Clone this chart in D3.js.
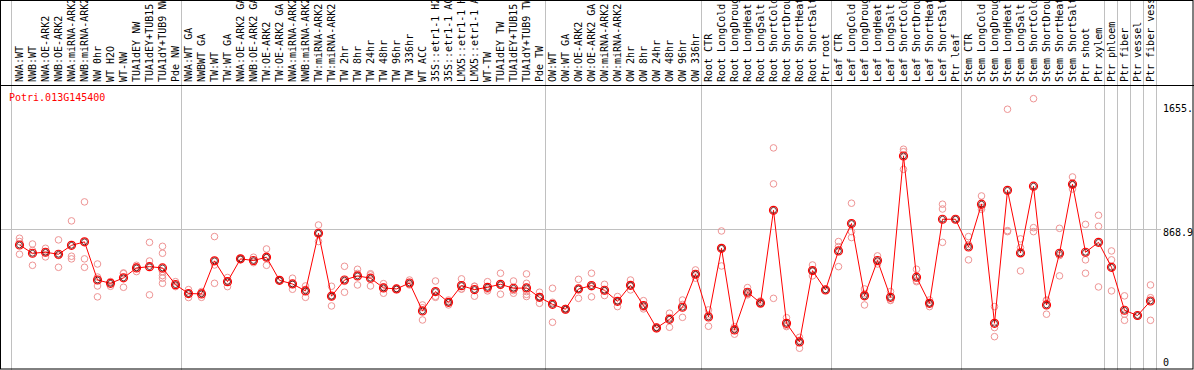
<!DOCTYPE html>
<html><head><meta charset="utf-8">
<script src="https://cdn.jsdelivr.net/npm/d3@7"></script>
<style>
html,body{margin:0;padding:0;background:#fff;}
text{font-family:"DejaVu Sans Mono",monospace;font-size:10px;}
</style></head>
<body><svg id="chart" width="1194" height="370"></svg>
<script>
const geneName = "Potri.013G145400";
const categories = [
"NWA:WT","NWB:WT","NWA:OE-ARK2","NWB:OE-ARK2","NWA:miRNA-ARK2","NWB:miRNA-ARK2","NW 0hr","WT H2O","WT-NW","TUA1dEY NW","TUA1dEY+TUB15 NW","TUA1dY+TUB9 NW","Pde NW",
"NWA:WT GA","NWBWT GA","TW:WT","TW:WT GA","NWA:OE-ARK2 GA","NWB:OE-ARK2 GA","TW:OE-ARK2","TW:OE-ARK2 GA","NWA:miRNA-ARK2","NWB:miRNA-ARK2","TW:miRNA-ARK2","TW:miRNA-ARK2","TW 2hr","TW 8hr","TW 24hr","TW 48hr","TW 96hr","TW 336hr","WT ACC","35S::etr1-1 H2O","35S::etr1-1 ACC","LMX5::etr1-1 H2O","LMX5::etr1-1 ACC","WT-TW","TUA1dEY TW","TUA1dEY+TUB15 TW","TUA1dY+TUB9 TW","Pde TW",
"OW:WT","OW:WT GA","OW:OE-ARK2","OW:OE-ARK2 GA","OW:miRNA-ARK2","OW:miRNA-ARK2","OW 2hr","OW 8hr","OW 24hr","OW 48hr","OW 96hr","OW 336hr",
"Root CTR","Root LongCold","Root LongDrought","Root LongHeat","Root LongSalt","Root ShortCold","Root ShortDrought","Root ShortHeat","Root ShortSalt","Ptr root",
"Leaf CTR","Leaf LongCold","Leaf LongDrought","Leaf LongHeat","Leaf LongSalt","Leaf ShortCold","Leaf ShortDrought","Leaf ShortHeat","Leaf ShortSalt","Ptr leaf",
"Stem CTR","Stem LongCold","Stem LongDrought","Stem LongHeat","Stem LongSalt","Stem ShortCold","Stem ShortDrought","Stem ShortHeat","Stem ShortSalt","Ptr shoot","Ptr xylem",
"Ptr phloem","Ptr fiber","Ptr vessel","Ptr fiber vessel"
];
const means = [
769,719,725,713,767,788,557,537,570,630,638,630,529,
475,473,673,547,685,675,695,555,533,491,840,459,557,582,568,509,503,539,370,487,422,523,499,513,531,507,509,
452,410,380,503,523,495,428,525,402,267,319,392,
592,333,749,255,483,418,979,295,182,614,497,
733,899,461,675,452,1308,574,416,925,925,
757,1016,295,1100,721,1125,406,719,1137,725,785,
634,374,342,430
];
const replicates = [
[810,790,713],[775,736,646],[749,728,697],[800,705,634],[915,701,685],[1030,685,634],[654,575,521,455],[545,519,548],[596,513,600],[646,608,636],[785,672,467],[761,719,608,584,568,537],[547,517,523],
[499,451,475],[487,452,480],[820,648,537],[572,517,552],[689,680,686],[695,668,662],[745,646,694],[558,552,555],[568,501,531],[521,452,500],[890,790,840],[519,400,458],[640,483,549],[622,527,597],[588,521,595],[535,477,515],[503,500,506],[557,527,533],[406,315,389],[551,452,458],[436,406,424],[564,503,502],[519,459,519],[547,491,501],[598,471,524],[551,477,493],[594,537,487,457,470],
[483,416,457],[507,301,422],[385,375,380],[561,446,502],[598,455,516],[531,463,491],[457,396,431],[557,497,521],[432,382,392],[272,262,267],[356,271,330],[436,331,409],
[618,568,590],[376,277,346],[854,642,751],[229,262,274],[511,467,471],[430,410,414],[1357,1139,446],[329,275,281],[210,144,192],[648,582,612],[497],
[790,759,638],[1022,850,814],[503,406,474],[703,668,654],[487,436,433],[1349,1334,1227],[622,547,553],[436,396,416],[1016,987,785],[925],
[820,679,772],[1066,985,997],[396,269,214],[1591,856,850],[806,753,612],[1655.1,874,850],[436,350,432],[870,705,582],[1181,1133,1108],[894,679,598],[949,882,515],
[733,679,491],[461,350,313],[342],[527,313,450]
];
// indices after which a group separator is drawn
const groupEnds = [12,40,52,62,72,83,84,85,86,87];
const gridValue = 868.9;
const maxValue = 1655.1;
const yTickLabels = ["1655.", "868.9", "0"];

const W = 1194, H = 370, headerH = 85;
const svg = d3.select("#chart");
svg.append("rect").attr("width",W).attr("height",H).attr("fill","#fff");

const x = d3.scaleLinear().domain([0, categories.length-1]).range([19.5, 19.5 + 13*(categories.length-1)]);
const y = d3.scaleLinear().domain([0, gridValue*2]).range([372, headerH]);

// separators
const sepX = [x(0)-9].concat(groupEnds.map(i => x(i)+5));
svg.selectAll("line.sep").data(sepX).enter().append("line")
  .attr("x1",d=>Math.round(d)+0.5).attr("x2",d=>Math.round(d)+0.5)
  .attr("y1",0).attr("y2",H).attr("stroke","#c0c0c0").attr("stroke-width",1);

// gridline
svg.append("line").attr("x1",1).attr("x2",1161)
  .attr("y1",Math.round(y(gridValue))+0.5).attr("y2",Math.round(y(gridValue))+0.5)
  .attr("stroke","#c0c0c0");

// category labels
svg.selectAll("text.cat").data(categories).enter().append("text")
  .attr("transform",(d,i)=>`translate(${x(i)},82) rotate(-90)`)
  .attr("dy","0.35em").attr("fill","#000").text(d=>d);

// header line and frame
svg.append("line").attr("x1",0).attr("x2",W).attr("y1",headerH+0.5).attr("y2",headerH+0.5).attr("stroke","#000");
svg.append("rect").attr("x",0.5).attr("y",0.5).attr("width",W-1.5).attr("height",H-1.5)
  .attr("fill","none").attr("stroke","#000");

// y labels
const yLab = [
  {t:yTickLabels[0], yy: y(maxValue)+13},
  {t:yTickLabels[1], yy: y(gridValue)+7.5},
  {t:yTickLabels[2], yy: y(0)-6.3}
];
svg.selectAll("text.ylab").data(yLab).enter().append("text")
  .attr("x",1163).attr("y",d=>d.yy).attr("fill","#000").text(d=>d.t);

// title
svg.append("text").attr("x",9).attr("y",101).attr("fill","#ff0000").text(geneName);

// replicate points
const repPts = [];
replicates.forEach((arr,i)=>arr.forEach(v=>repPts.push({i,v})));
svg.selectAll("circle.rep").data(repPts).enter().append("circle")
  .attr("cx",d=>x(d.i)).attr("cy",d=>y(d.v)).attr("r",3.3)
  .attr("fill","none").attr("stroke","#ee9494").attr("stroke-width",1);

// mean line
svg.append("path").datum(means)
  .attr("d", d3.line().x((d,i)=>x(i)).y(d=>y(d)))
  .attr("fill","none").attr("stroke","#ff0000").attr("stroke-width",1);

// mean markers
const mg = svg.selectAll("g.mean").data(means).enter().append("g");
mg.append("circle").attr("cx",(d,i)=>x(i)).attr("cy",d=>y(d)).attr("r",4)
  .attr("fill","none").attr("stroke","#ff0000").attr("stroke-width",1.2);
mg.append("circle").attr("cx",(d,i)=>x(i)).attr("cy",d=>y(d)).attr("r",2.9)
  .attr("fill","none").attr("stroke","#400000").attr("stroke-width",0.8);
</script>
</body></html>
